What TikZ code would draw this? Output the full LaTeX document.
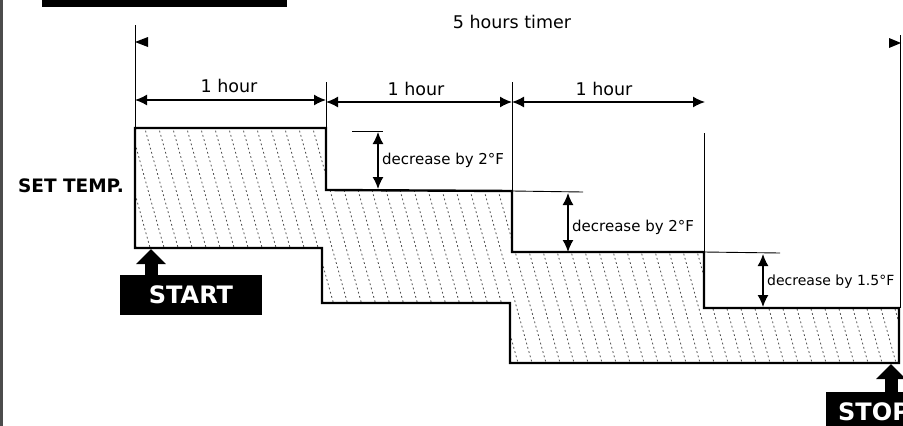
\documentclass[tikz,border=0pt]{standalone}
\usepackage{fontspec}
\setmainfont{DejaVu Sans}
\usetikzlibrary{arrows.meta}

\tikzset{
  dimline/.style={line width=1.4pt,{Latex[length=12pt,width=11pt]}-{Latex[length=12pt,width=11pt]}},
  guide/.style={line width=0.9pt},
  stepline/.style={line width=2.4pt,line join=miter},
  hatch/.style={black!70,line width=0.8pt,dash pattern=on 1.8pt off 2.6pt},
  hourtext/.style={inner sep=0pt,font=\fontsize{17.5}{18}\selectfont},
  dectext/.style={inner sep=0pt,anchor=west,font=\fontsize{15}{16}\selectfont},
  blackbox/.style={fill=black,text=white,minimum height=40pt,
    font=\bfseries\fontsize{24}{24}\selectfont},
  bigarrow/.style={line width=13pt,-{Triangle[length=15pt,width=29pt]}}
}

\begin{document}
\begin{tikzpicture}[x=1pt,y=-1pt]
  \useasboundingbox (0,0) rectangle (903,426);
  % frame edge and header box
  \fill[black!70] (0,0) rectangle (3,426);
  \fill (42,-6) rectangle (287,7);
  % hatched band between the two stairs
  \begin{scope}
    \clip (135,128) -- (326,128) -- (326,190) -- (512,191) -- (512,252) -- (704,252)
      -- (704,308) -- (899,308) -- (899,363) -- (510,363) -- (510,303) -- (322,303)
      -- (322,248) -- (135,248) -- cycle;
    \foreach \x in {30,44,...,900}
      \draw[hatch] (\x,118) -- ++(70,252);
  \end{scope}
  \draw[stepline] (135,128) -- (326,128) -- (326,190) -- (512,191) -- (512,252) -- (704,252)
    -- (704,308) -- (899,308) -- (899,363) -- (510,363) -- (510,303) -- (322,303)
    -- (322,248) -- (135,248) -- cycle;
  % guide lines
  \draw[guide] (135,25) -- (135,128);
  \draw[guide] (326,82) -- (326,128);
  \draw[guide] (512,82) -- (512,191);
  \draw[guide] (704,133) -- (704,252);
  \draw[guide] (900,35) -- (900,308);
  \draw[guide] (352,131) -- (383,131);
  \draw[guide] (512,191) -- (583,192);
  \draw[guide] (704,252) -- (780,253);
  % timer
  \node[hourtext] (timer) at (512,22) {5 hours timer};
  \fill (135,42) -- (148,37) -- (148,47) -- cycle;
  \fill (901,43) -- (889,38) -- (889,48) -- cycle;
  % hours
  \draw[dimline] (135,100) -- (326,100);
  \draw[dimline] (326,102) -- (512,102);
  \draw[dimline] (512,102) -- (705,102);
  \node[hourtext] (hour1) at (229,86) {1 hour};
  \node[hourtext] (hour2) at (416,89) {1 hour};
  \node[hourtext] (hour3) at (604,89) {1 hour};
  % decreases
  \draw[dimline] (378,132) -- (378,189);
  \draw[dimline] (568,193) -- (568,252);
  \draw[dimline] (763,254) -- (763,307);
  \node[dectext] (dec1) at (382,160) {decrease by 2°F};
  \node[dectext] (dec2) at (572,227) {decrease by 2°F};
  \node[dectext,font=\fontsize{14}{15}\selectfont] (dec3) at (767,282) {decrease by 1.5°F};
  % set temperature
  \node[inner sep=0pt,font=\bfseries\fontsize{18.5}{19}\selectfont] (settemp) at (71,186) {SET TEMP.};
  % start and stop
  \node[blackbox,minimum width=142pt] (start) at (191,295) {START};
  \node[blackbox,anchor=north west,text width=120pt,inner xsep=12pt,align=left] (stop) at (826,392) {STOP};
  \coordinate (setpoint) at (151,249);
  \coordinate (endpoint) at (891,364);
  \draw[bigarrow] (start.north -| setpoint) -- (setpoint);
  \draw[bigarrow] (stop.north -| endpoint) -- (endpoint);
\end{tikzpicture}
\end{document}
